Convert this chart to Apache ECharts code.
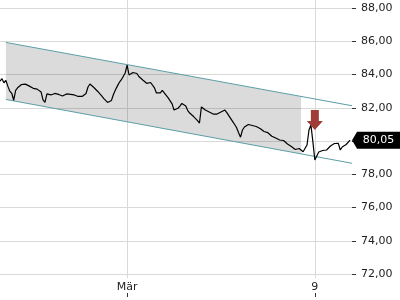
<!DOCTYPE html>
<html>
<head>
<meta charset="utf-8">
<script src="https://cdn.jsdelivr.net/npm/echarts@6/dist/echarts.min.js"></script>
<style>html,body{margin:0;padding:0;background:#fff}#c{width:400px;height:300px}</style>
</head>
<body>
<div id="c"></div>
<script>
// 2-hourly time stamps (category axis)
const categories = [];
(function () {
  const t0 = Date.UTC(2021, 1, 23, 14);
  const p = n => String(n).padStart(2, '0');
  for (let i = 0; i < 181; i++) {
    const d = new Date(t0 + i * 2 * 3600 * 1000);
    categories.push(d.getUTCFullYear() + '-' + p(d.getUTCMonth() + 1) + '-' + p(d.getUTCDate()) + ' ' + p(d.getUTCHours()) + ':00');
  }
})();

// x tick labels
const xTickLabels = { '2021-03-01 00:00': 'Mär', '2021-03-09 00:00': '9' };

// price series
const prices = [
  83.60, 83.75, 83.50, 83.65, 83.30, 83.00, 82.87, 82.45, 83.05, 83.20,
  83.25, 83.40, 83.50, 83.42, 83.35, 83.30, 83.25, 83.17, 83.13, 83.12,
  83.16, 82.95, 82.47, 82.33, 82.83, 82.95, 82.77, 82.86, 82.86, 82.83,
  82.80, 82.77, 82.71, 82.77, 82.83, 82.77, 82.80, 82.74, 82.77, 82.77,
  82.68, 82.63, 82.68, 82.74, 82.86, 83.25, 83.43, 83.37, 83.22, 83.10,
  82.98, 82.89, 82.71, 82.56, 82.44, 82.32, 82.29, 82.44, 82.80, 83.07,
  83.30, 83.52, 83.67, 83.77, 84.09, 84.57, 83.97, 84.06, 84.12, 84.17,
  84.06, 83.88, 83.76, 83.67, 83.58, 83.47, 83.46, 83.52, 83.64, 83.19,
  82.89, 82.87, 82.89, 83.04, 82.95, 82.74, 82.59, 82.41, 82.23, 81.86,
  81.86, 81.97, 82.10, 82.26, 82.20, 82.10, 81.83, 81.68, 81.56, 81.47,
  81.35, 81.23, 81.08, 82.05, 82.01, 81.86, 81.80, 81.74, 81.68, 81.62,
  81.56, 81.62, 81.68, 81.74, 81.80, 81.86, 81.71, 81.53, 81.35, 81.17,
  80.99, 80.80, 80.50, 80.23, 80.66, 80.84, 80.96, 80.99, 80.99, 80.93,
  80.90, 80.87, 80.81, 80.75, 80.66, 80.57, 80.57, 80.50, 80.38, 80.29,
  80.20, 80.18, 80.12, 80.06, 80.06, 80.03, 79.94, 79.82, 79.76, 79.67,
  79.56, 79.49, 79.46, 79.55, 79.46, 79.35, 79.28, 79.76, 80.66, 80.96,
  79.95, 78.86, 79.10, 79.34, 79.46, 79.43, 79.37, 79.46, 79.58, 79.70,
  79.79, 79.85, 79.88, 79.86, 79.46, 79.64, 79.76, 79.79, 79.88, 80.05
];
const lastPrice = 80.05;

// trend channel (category index, value)
const channelIdx = [3, 180];
const channelUpper = [85.93, 82.12];
const channelLower = [82.50, 78.66];
const bandEndIdx = 154;

// sell signal
const signalIdx = 161;
const signalPrice = 80.66;

// y ticks
const yMin = 72, yMax = 88, yStep = 2;

const fmt = v => v.toFixed(2).replace('.', ',');
const isTick = (i, v) => Object.prototype.hasOwnProperty.call(xTickLabels, v);

const FONT = 'DejaVu Sans';
const chart = echarts.init(document.getElementById('c'), null, { renderer: 'canvas' });

chart.setOption({
  animation: false,
  backgroundColor: '#fff',
  grid: [
    { left: 0, right: 48, top: 8, height: 266 },
    { left: 0, right: 48, top: 0, bottom: 22 },
    { left: 0, right: 48, top: 0, bottom: 3 }
  ],
  xAxis: [
    { gridIndex: 0, type: 'category', data: categories, boundaryGap: false, show: false },
    { gridIndex: 1, type: 'category', data: categories, boundaryGap: false,
      axisLine: { show: false }, axisTick: { show: false, interval: isTick }, axisLabel: { show: false, interval: isTick },
      splitLine: { show: true, interval: isTick, lineStyle: { color: '#d9d9d9', width: 1 } } },
    { gridIndex: 2, type: 'category', data: categories, boundaryGap: false,
      axisLine: { show: false },
      axisTick: { show: true, inside: true, length: 4, interval: isTick, lineStyle: { color: '#333' } },
      axisLabel: { show: true, inside: true, margin: 4, interval: isTick,
        formatter: v => xTickLabels[v] || '', fontFamily: FONT, fontSize: 11, color: '#222' },
      splitLine: { show: false } }
  ],
  yAxis: [
    { gridIndex: 0, type: 'value', position: 'right', min: yMin, max: yMax, interval: yStep,
      axisLine: { show: false },
      axisTick: { show: true, length: 4, lineStyle: { color: '#333' } },
      axisLabel: { margin: 9, formatter: fmt, fontFamily: FONT, fontSize: 11, color: '#222' },
      splitLine: { show: true, lineStyle: { color: '#d9d9d9', width: 1 } } },
    { gridIndex: 1, type: 'value', min: 0, max: 1, show: false, splitLine: { show: false } },
    { gridIndex: 2, type: 'value', min: 0, max: 1, show: false, splitLine: { show: false } }
  ],
  series: [
    {
      type: 'custom', xAxisIndex: 0, yAxisIndex: 0, silent: true, z: 1,
      data: [[channelIdx[0], channelUpper[0], channelLower[0], channelIdx[1], channelUpper[1], channelLower[1]]],
      encode: { x: [0, 3], y: [1, 2, 4, 5] },
      renderItem: function (params, api) {
        const i0 = api.value(0), i1 = api.value(3);
        const u0 = api.value(1), l0 = api.value(2), u1 = api.value(4), l1 = api.value(5);
        const t = (bandEndIdx - i0) / (i1 - i0);
        const uE = u0 + (u1 - u0) * t, lE = l0 + (l1 - l0) * t;
        const pts = [api.coord([i0, u0]), api.coord([bandEndIdx, uE]), api.coord([bandEndIdx, lE]), api.coord([i0, l0])];
        return { type: 'polygon', shape: { points: pts }, style: { fill: 'rgba(0,0,0,0.14)' } };
      }
    },
    {
      type: 'line', xAxisIndex: 0, yAxisIndex: 0, silent: true, symbol: 'none', z: 3,
      data: [[channelIdx[0], channelUpper[0]], [channelIdx[1], channelUpper[1]]],
      lineStyle: { color: '#5b9fa6', width: 1 }
    },
    {
      type: 'line', xAxisIndex: 0, yAxisIndex: 0, silent: true, symbol: 'none', z: 3,
      data: [[channelIdx[0], channelLower[0]], [channelIdx[1], channelLower[1]]],
      lineStyle: { color: '#5b9fa6', width: 1 }
    },
    {
      type: 'line', xAxisIndex: 0, yAxisIndex: 0, silent: true, symbol: 'none', z: 4,
      data: prices,
      lineStyle: { color: '#000', width: 1.2 },
      markPoint: {
        silent: true,
        data: [
          {
            coord: [categories[prices.length - 1], lastPrice],
            symbol: 'path://M0,8.5 L5,0 L48,0 L48,17 L5,17 Z',
            symbolSize: [48, 17], symbolKeepAspect: false, symbolOffset: [26, 0],
            itemStyle: { color: '#000' },
            label: { show: true, position: 'inside', offset: [2.5, 0], formatter: fmt(lastPrice),
              color: '#fff', fontFamily: FONT, fontSize: 11 }
          },
          {
            coord: [categories[signalIdx], signalPrice],
            symbol: 'path://M4,0 L12,0 L12,11 L16,11 L8,20 L0,11 L4,11 Z',
            symbolSize: [16, 20], symbolKeepAspect: false, symbolOffset: [0, -10],
            itemStyle: { color: '#a03c37' },
            label: { show: false }
          }
        ]
      }
    }
  ]
});
</script>
</body>
</html>
